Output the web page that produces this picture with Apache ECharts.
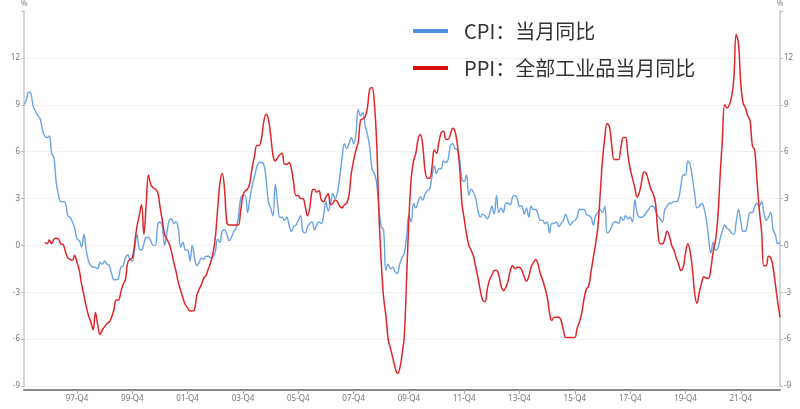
<!DOCTYPE html>
<html>
<head>
<meta charset="utf-8">
<script src="https://cdn.jsdelivr.net/npm/echarts@6/dist/echarts.min.js"></script>
<style>
html,body{margin:0;padding:0;background:#fff;}
#chart{width:800px;height:409px;}
</style>
</head>
<body>
<div id="chart"></div>
<script>
// Monthly data, 1996-01 .. 2023-05
var startYear = 1996, startMonth = 1, monthCount = 329;

var seriesNames = ['CPI：当月同比', 'PPI：全部工业品当月同比'];

var cpi = [
  9.0, 9.3, 9.8, 9.7, 8.9, 8.6, 8.3, 8.1, 7.4, 7.0, 6.9, 7.0,
  5.9, 5.6, 4.0, 3.2, 2.8, 2.8, 2.7, 1.9, 1.8, 1.5, 1.1, 0.4,
  0.3, -0.1, 0.7, -0.3, -1.0, -1.3, -1.4, -1.4, -1.5, -1.1, -1.2, -1.0,
  -1.2, -1.3, -1.8, -2.2, -2.2, -2.1, -1.4, -1.3, -0.8, -0.6, -0.9, -1.0,
  -0.2, 0.7, -0.2, -0.3, 0.1, 0.5, 0.5, 0.3, 0.0, 0.0, 1.3, 1.5,
  1.2, 0.0, 0.8, 1.6, 1.7, 1.4, 1.5, 1.0, -0.1, 0.2, -0.3, -0.3,
  -1.0, 0.0, -0.8, -1.3, -1.1, -0.8, -0.9, -0.7, -0.7, -0.8, -0.7, -0.4,
  0.4, 0.2, 0.9, 1.0, 0.7, 0.3, 0.5, 0.9, 1.1, 1.8, 3.0, 3.2,
  3.2, 2.1, 3.0, 3.8, 4.4, 5.0, 5.3, 5.3, 5.2, 4.3, 2.8, 2.4,
  1.9, 3.9, 2.7, 1.8, 1.8, 1.6, 1.8, 1.3, 0.9, 1.2, 1.3, 1.6,
  1.9, 0.9, 0.8, 1.2, 1.4, 1.5, 1.0, 1.3, 1.5, 1.4, 1.9, 2.8,
  2.2, 2.7, 3.3, 3.0, 3.4, 4.4, 5.6, 6.5, 6.2, 6.5, 6.9, 6.5,
  7.1, 8.7, 8.3, 8.5, 7.7, 7.1, 6.3, 4.9, 4.6, 4.0, 2.4, 1.2,
  1.0, -1.6, -1.2, -1.5, -1.4, -1.7, -1.8, -1.2, -0.8, -0.5, 0.6, 1.9,
  1.5, 2.7, 2.4, 2.8, 3.1, 2.9, 3.3, 3.5, 3.6, 4.4, 5.1, 4.6,
  4.9, 4.9, 5.4, 5.3, 5.5, 6.4, 6.5, 6.2, 6.1, 5.5, 4.2, 4.1,
  4.5, 3.2, 3.6, 3.4, 3.0, 2.2, 1.8, 2.0, 1.9, 1.7, 2.0, 2.5,
  2.0, 3.2, 2.1, 2.4, 2.1, 2.7, 2.7, 2.6, 3.1, 3.2, 3.0, 2.5,
  2.5, 2.0, 2.4, 1.8, 2.5, 2.3, 2.3, 2.0, 1.6, 1.6, 1.4, 1.5,
  0.8, 1.4, 1.4, 1.5, 1.2, 1.4, 1.6, 2.0, 1.6, 1.3, 1.5, 1.6,
  1.8, 2.3, 2.3, 2.3, 2.0, 1.9, 1.8, 1.3, 1.9, 2.1, 2.3, 2.1,
  2.5, 0.8, 0.9, 1.2, 1.5, 1.5, 1.4, 1.8, 1.6, 1.9, 1.7, 1.8,
  1.5, 2.9, 2.1, 1.8, 1.8, 1.9, 2.1, 2.3, 2.5, 2.5, 2.2, 1.9,
  1.7, 1.5, 2.3, 2.5, 2.7, 2.7, 2.8, 2.8, 3.0, 3.8, 4.5, 4.5,
  5.4, 5.2, 4.3, 3.3, 2.4, 2.5, 2.7, 2.4, 1.7, 0.5, -0.5, 0.2,
  -0.3, -0.2, 0.4, 0.9, 1.3, 1.1, 1.0, 0.8, 0.7, 1.5, 2.3, 1.5,
  0.9, 0.9, 1.5, 2.1, 2.1, 2.5, 2.7, 2.5, 2.8, 2.1, 1.6, 1.8,
  2.1, 1.0, 0.7, 0.1, 0.2
];

var ppi = [
  null, null, null, null, null, null, null, null, null, 0.2, 0.1, 0.35,
  0.1, 0.4, 0.45, 0.4, 0.1, 0.05, -0.4, -0.8, -0.9, -0.95, -0.65, -1.1,
  -1.6, -2.5, -3.2, -3.9, -4.5, -4.9, -5.4, -4.3, -5.1, -5.7, -5.4, -5.2,
  -5.0, -4.9, -4.6, -4.1, -3.5, -3.5, -3.0, -2.5, -2.2, -1.1, -0.9, -0.8,
  0.1, 1.2, 1.9, 2.6, 0.7, 2.6, 4.5, 3.9, 3.7, 3.6, 3.4, 2.5,
  1.6, 0.7, 0.4, 0.1, -0.4, -1.1, -1.7, -2.4, -2.9, -3.4, -3.8, -4.0,
  -4.2, -4.2, -4.1, -3.2, -2.8, -2.5, -2.1, -1.9, -1.5, -1.1, -0.5, 0.5,
  2.3, 4.0, 4.6, 3.6, 1.5, 1.3, 1.3, 1.3, 1.3, 1.3, 2.2, 3.2,
  3.5, 3.6, 4.0, 5.0, 5.7, 6.4, 6.4, 6.8, 7.9, 8.4, 8.1, 7.1,
  5.8, 5.4, 5.6, 5.8, 5.9, 5.2, 5.2, 5.3, 4.9, 4.0, 3.2, 3.2,
  3.0, 3.0, 2.5, 1.9, 2.4, 3.5, 3.6, 3.4, 3.5, 2.9, 2.8, 3.1,
  3.3, 2.6, 2.7, 2.9, 2.8, 2.5, 2.4, 2.6, 2.7, 3.2, 4.6, 5.4,
  6.1, 6.6, 8.0, 8.1, 8.2, 8.8, 10.0, 10.1, 9.1, 6.6, 2.0, -1.1,
  -3.3, -4.5, -6.0, -6.6, -7.2, -7.8, -8.2, -7.9, -7.0, -5.8, -2.1, 1.7,
  4.3, 5.4, 5.9, 6.8, 7.1, 6.4, 4.8, 4.3, 4.3, 5.0, 6.1, 5.9,
  6.6, 7.2, 7.3, 6.8, 6.8, 7.1, 7.5, 7.3, 6.5, 5.0, 2.7, 1.7,
  0.7, 0.0, -0.3, -0.7, -1.4, -2.1, -2.9, -3.5, -3.6, -2.8, -2.2, -1.9,
  -1.6, -1.6, -1.9, -2.6, -2.9, -2.7, -2.3, -1.6, -1.3, -1.5, -1.4, -1.4,
  -1.6, -2.0, -2.3, -2.0, -1.4, -1.1, -0.9, -1.2, -1.8, -2.2, -2.7, -3.3,
  -4.3, -4.8, -4.6, -4.6, -4.6, -4.8, -5.4, -5.9, -5.9, -5.9, -5.9, -5.9,
  -5.3, -4.9, -4.3, -3.4, -2.8, -2.6, -1.7, -0.8, 0.1, 1.2, 3.3, 5.5,
  6.9, 7.8, 7.6, 6.4, 5.5, 5.5, 5.5, 6.3, 6.9, 6.9, 5.8, 4.9,
  4.3, 3.7, 3.1, 3.4, 4.1, 4.7, 4.6, 4.1, 3.6, 3.3, 2.7, 0.9,
  0.1, 0.1, 0.4, 0.9, 0.6, 0.0, -0.3, -0.8, -1.2, -1.6, -1.4, -0.5,
  0.1, -0.4, -1.5, -3.1, -3.7, -3.0, -2.4, -2.0, -2.1, -2.1, -1.5, -0.4,
  0.3, 1.7, 4.4, 6.8, 9.0, 8.8, 9.0, 9.5, 10.7, 13.5, 12.9, 10.3,
  9.1, 8.8, 8.3, 8.0, 6.4, 6.1, 4.2, 2.3, 0.9, -1.3, -1.3, -0.7,
  -0.8, -1.4, -2.5, -3.6, -4.6
];

// x-axis labels shown (December of odd years)
var xTickLabels = ['97-Q4','99-Q4','01-Q4','03-Q4','05-Q4','07-Q4','09-Q4','11-Q4','13-Q4','15-Q4','17-Q4','19-Q4','21-Q4'];
var yTicks = [-9, -6, -3, 0, 3, 6, 9, 12];

var categories = [];
for (var i = 0; i < monthCount; i++) {
  var m = startMonth - 1 + i;
  var y = startYear + Math.floor(m / 12);
  var mm = (m % 12) + 1;
  categories.push(y + '-' + (mm < 10 ? '0' + mm : mm));
}
function labelFor(cat) {
  var yy = cat.slice(2, 4);
  if (cat.slice(5) !== '12') return null;
  var lab = yy + '-Q4';
  return xTickLabels.indexOf(lab) >= 0 ? lab : null;
}
function showTick(idx, cat) { return labelFor(cat) !== null; }

var chart = echarts.init(document.getElementById('chart'), null, {renderer: 'canvas'});
var axisFont = {fontSize: 8, color: '#777', fontFamily: 'Noto Sans, sans-serif'};
function yAxisCfg(pos, split) {
  return {
    type: 'value', position: pos, min: -9, max: 15, interval: 3,
    name: '%', nameLocation: 'end', nameGap: 3,
    nameTextStyle: {fontSize: 8, color: '#888', align: 'center', fontFamily: 'Noto Sans, sans-serif'},
    axisLine: {show: true, lineStyle: {color: '#c8c8c8', width: 1.5}},
    axisTick: {show: true, length: 3, lineStyle: {color: '#bbb'}},
    axisLabel: Object.assign({margin: 4, formatter: function (v) { return yTicks.indexOf(v) >= 0 ? String(v) : ''; }}, axisFont),
    splitLine: {show: split, lineStyle: {color: ['#f1f1f1','#f1f1f1','#f1f1f1','#f1f1f1','#f1f1f1','#f1f1f1','#f1f1f1','#f1f1f1','rgba(0,0,0,0)'], width: 1}}
  };
}

chart.setOption({
  animation: false,
  backgroundColor: '#fff',
  grid: {left: 24, right: 20, top: 10, bottom: 23, containLabel: false},
  legend: {
    orient: 'vertical', left: 408, top: 14, itemGap: 13,
    itemWidth: 35, itemHeight: 4, icon: 'rect',
    textStyle: {fontSize: 20, color: '#333', lineHeight: 24, padding: [0, 0, 0, 11], fontFamily: 'Noto Sans CJK SC, sans-serif'},
    data: seriesNames
  },
  xAxis: {
    type: 'category', data: categories, boundaryGap: false, offset: 4,
    axisLine: {show: true, onZero: false, lineStyle: {color: '#8a8a8a', width: 2}},
    axisTick: {show: true, interval: showTick, length: 4, lineStyle: {color: '#aaa'}},
    axisLabel: Object.assign({interval: showTick, margin: 5, formatter: function (v) { return labelFor(v) || ''; }}, axisFont),
    splitLine: {show: false}
  },
  yAxis: [yAxisCfg('left', true), yAxisCfg('right', false)],
  series: [
    {name: seriesNames[0], type: 'line', data: cpi, yAxisIndex: 0, showSymbol: false, symbol: 'none', smooth: 0.4,
     itemStyle: {color: '#4f8fdc'}, lineStyle: {color: '#6aa3e4', width: 1.4}},
    {name: seriesNames[1], type: 'line', data: ppi, yAxisIndex: 0, showSymbol: false, symbol: 'none', smooth: 0.4,
     itemStyle: {color: '#d80f0f'}, lineStyle: {color: '#e0262a', width: 1.5}}
  ]
});
</script>
</body>
</html>
